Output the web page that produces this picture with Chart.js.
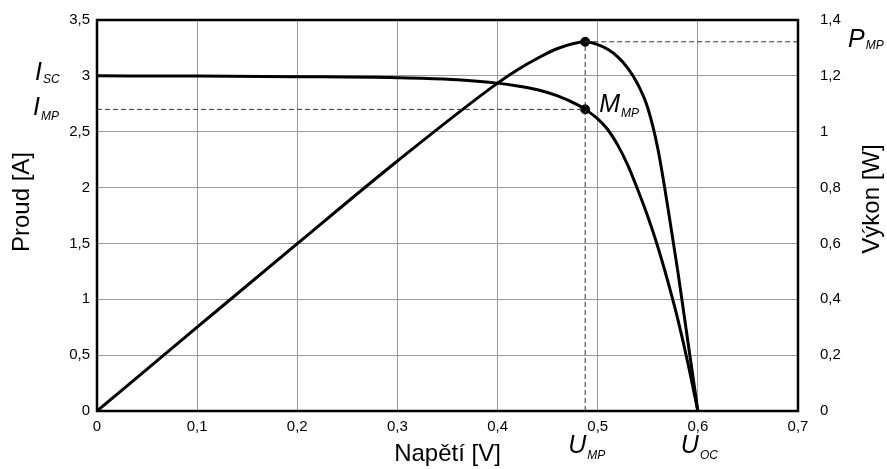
<!DOCTYPE html>
<html>
<head>
<meta charset="utf-8">
<script src="https://cdn.jsdelivr.net/npm/chart.js@4"></script>
<style>
  body { margin: 0; background: #fff; }
  #wrap { width: 887px; height: 469px; }
</style>
</head>
<body>
<div id="wrap"><canvas id="pv-chart"></canvas></div>
<script>
// I-V curve
var voltageI = [0, 0.1, 0.2, 0.3, 0.35, 0.4, 0.42, 0.44, 0.46, 0.48, 0.4875, 0.5, 0.51, 0.52, 0.53, 0.54, 0.55, 0.56, 0.57, 0.58, 0.59, 0.6];
var current  = [3.0, 2.998, 2.993, 2.984, 2.97, 2.935, 2.91, 2.875, 2.82, 2.74, 2.70, 2.615, 2.52, 2.38, 2.2, 1.98, 1.74, 1.47, 1.16, 0.82, 0.43, 0];

// P-V curve
var voltageP = [0, 0.1, 0.2, 0.3, 0.4, 0.42, 0.44, 0.46, 0.4875, 0.5, 0.51, 0.52, 0.53, 0.54, 0.55, 0.56, 0.57, 0.58, 0.59, 0.6];
var power    = [0, 0.3, 0.599, 0.895, 1.174, 1.222, 1.263, 1.298, 1.322, 1.312, 1.295, 1.268, 1.228, 1.17, 1.085, 0.94, 0.73, 0.5, 0.25, 0];

// maximum power point
var Ump = 0.4875;
var Imp = 2.70;
var Pmp = 1.322;
var Uoc = 0.6;

var xTicks  = [0, 0.1, 0.2, 0.3, 0.4, 0.5, 0.6, 0.7];
var yTicks  = [0, 0.5, 1, 1.5, 2, 2.5, 3, 3.5];
var y1Ticks = [0, 0.2, 0.4, 0.6, 0.8, 1, 1.2, 1.4];

function pts(xs, ys) {
    return xs.map(function (x, i) { return { x: x, y: ys[i] }; });
}
function comma(v) {
    return String(Math.round(v * 10) / 10).replace('.', ',');
}
// fixed box size, no extra label overflow padding
function fixSize(w, h) {
    return function (s) {
        if (w) s.width = w;
        if (h) s.height = h;
        s.paddingTop = 0;
        s.paddingBottom = 0;
        s.paddingLeft = 0;
        s.paddingRight = 0;
    };
}

var FONT = "'Liberation Sans', Arial, sans-serif";

var dashed = {
    borderColor: '#333',
    borderWidth: 1,
    borderDash: [5, 3],
    pointRadius: 0,
    fill: false
};

var data = {
    datasets: [
        Object.assign({ data: [{ x: 0, y: Imp }, { x: Ump, y: Imp }], yAxisID: 'y' }, dashed),
        Object.assign({ data: [{ x: Ump, y: 0 }, { x: Ump, y: Pmp }], yAxisID: 'y1' }, dashed),
        Object.assign({ data: [{ x: Ump, y: Pmp }, { x: 0.7, y: Pmp }], yAxisID: 'y1' }, dashed),
        {
            label: 'Proud',
            data: pts(voltageI, current),
            yAxisID: 'y',
            borderColor: '#000',
            borderWidth: 3,
            pointRadius: 0,
            cubicInterpolationMode: 'monotone'
        },
        {
            label: 'Výkon',
            data: pts(voltageP, power),
            yAxisID: 'y1',
            borderColor: '#000',
            borderWidth: 3,
            pointRadius: 0,
            cubicInterpolationMode: 'monotone'
        },
        {
            data: [{ x: Ump, y: Imp }],
            yAxisID: 'y',
            showLine: false,
            pointRadius: 4.5,
            backgroundColor: '#000',
            borderColor: '#000'
        },
        {
            data: [{ x: Ump, y: Pmp }],
            yAxisID: 'y1',
            showLine: false,
            pointRadius: 4.5,
            backgroundColor: '#000',
            borderColor: '#000'
        }
    ]
};

// italic symbol with subscript
function symbol(ctx, main, sub, x, y, subDy) {
    ctx.font = 'italic 25px ' + FONT;
    ctx.fillText(main, x, y);
    var w = ctx.measureText(main).width;
    ctx.font = 'italic 12px ' + FONT;
    ctx.fillText(sub, x + w + 1, y + subDy);
}

var extras = {
    id: 'extras',
    afterDraw: function (chart) {
        var ctx = chart.ctx;
        var a = chart.chartArea;
        var sx = chart.scales.x, sy = chart.scales.y, sy1 = chart.scales.y1;
        ctx.save();
        // frame
        ctx.strokeStyle = '#000';
        ctx.lineWidth = 2.5;
        ctx.strokeRect(a.left, a.top, a.right - a.left, a.bottom - a.top);

        ctx.fillStyle = '#000';
        ctx.textAlign = 'left';
        ctx.textBaseline = 'alphabetic';
        symbol(ctx, 'I', 'SC', 35, sy.getPixelForValue(3) + 4, 3);
        symbol(ctx, 'I', 'MP', 33, sy.getPixelForValue(Imp) + 6, 5);
        symbol(ctx, 'P', 'MP', 848, sy1.getPixelForValue(Pmp) + 5, 2);
        symbol(ctx, 'M', 'MP', sx.getPixelForValue(Ump) + 14, sy.getPixelForValue(Imp) + 3, 5);
        symbol(ctx, 'U', 'MP', sx.getPixelForValue(Ump) - 17, 453, 6);
        symbol(ctx, 'U', 'OC', sx.getPixelForValue(Uoc) - 17, 453, 6);

        // vertical axis titles (both read bottom to top)
        ctx.font = '24px ' + FONT;
        ctx.textAlign = 'center';
        ctx.textBaseline = 'middle';
        ctx.translate(22, 202);
        ctx.rotate(-Math.PI / 2);
        ctx.fillText('Proud [A]', 0, 0);
        ctx.rotate(Math.PI / 2);
        ctx.translate(872 - 22, 199 - 202);
        ctx.rotate(-Math.PI / 2);
        ctx.fillText('Výkon [W]', 0, 0);
        ctx.restore();
    }
};

var layout = {
    type: 'line',
    data: data,
    options: {
        responsive: true,
        maintainAspectRatio: false,
        animation: false,
        layout: { padding: { top: 20, left: 0, right: 0, bottom: 0 } },
        plugins: {
            legend: { display: false },
            tooltip: { enabled: false }
        },
        scales: {
            x: {
                type: 'linear',
                min: 0,
                max: 0.7,
                afterFit: fixSize(0, 58),
                afterBuildTicks: function (s) { s.ticks = xTicks.map(function (v) { return { value: v }; }); },
                grid: { color: '#999', lineWidth: 1, drawTicks: false },
                border: { display: false },
                ticks: {
                    padding: 7,
                    color: '#000',
                    font: { family: FONT, size: 15 },
                    callback: comma
                },
                title: {
                    display: true,
                    text: 'Napětí [V]',
                    color: '#000',
                    font: { family: FONT, size: 24 },
                    padding: { top: 0, bottom: 0 }
                }
            },
            y: {
                position: 'left',
                min: 0,
                max: 3.5,
                afterFit: fixSize(97, 0),
                afterBuildTicks: function (s) { s.ticks = yTicks.map(function (v) { return { value: v }; }); },
                grid: { color: '#999', lineWidth: 1, drawTicks: false },
                border: { display: false },
                ticks: {
                    padding: 7,
                    color: '#000',
                    font: { family: FONT, size: 15 },
                    callback: comma
                }
            },
            y1: {
                position: 'right',
                min: 0,
                max: 1.4,
                afterFit: fixSize(89, 0),
                afterBuildTicks: function (s) { s.ticks = y1Ticks.map(function (v) { return { value: v }; }); },
                grid: { drawOnChartArea: false, drawTicks: false },
                border: { display: false },
                ticks: {
                    padding: 22,
                    color: '#000',
                    font: { family: FONT, size: 15 },
                    callback: comma
                }
            }
        }
    },
    plugins: [extras]
};

var pvChart = document.getElementById('pv-chart');
new Chart(pvChart, layout);
</script>
</body>
</html>
